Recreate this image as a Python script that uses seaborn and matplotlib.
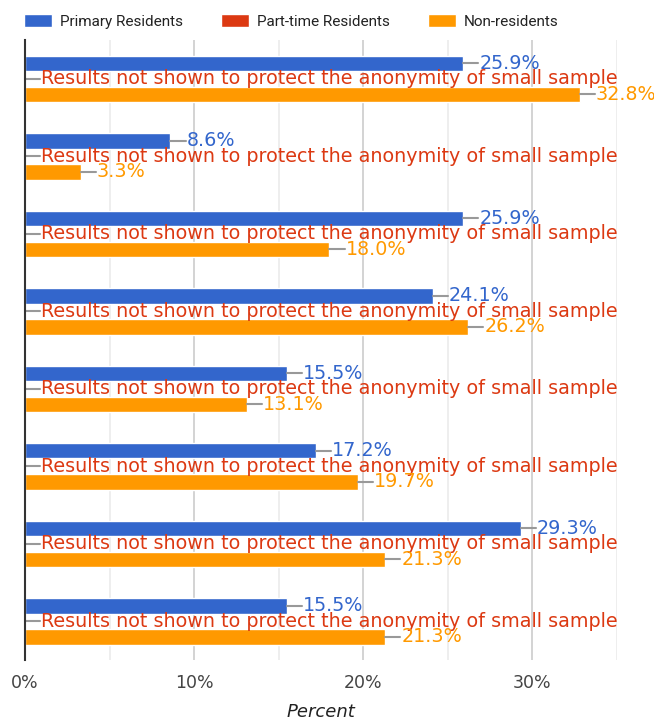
import numpy as np
import pandas as pd
import matplotlib
matplotlib.use('Agg')
import matplotlib.pyplot as plt
import seaborn as sns

groups = ['G1', 'G2', 'G3', 'G4', 'G5', 'G6', 'G7', 'G8']
series = ['Primary Residents', 'Part-time Residents', 'Non-residents']
primary = [25.9, 8.6, 25.9, 24.1, 15.5, 17.2, 29.3, 15.5]
parttime = [np.nan] * 8  # not shown
nonres = [32.8, 3.3, 18.0, 26.2, 13.1, 19.7, 21.3, 21.3]
colors = ['#3366cc', '#dc3912', '#ff9900']
hidden_msg = 'Results not shown to protect the anonymity of small sample'

df = pd.DataFrame({
    'group': groups * 3,
    'series': np.repeat(series, len(groups)),
    'value': primary + parttime + nonres,
})
df['shown'] = df.value.notna()
df['plotval'] = df.value.fillna(0)

sns.set_style('white')
fig = plt.figure(figsize=(6.54, 7.27), dpi=100)
ax = fig.add_axes([25/654, 67/727, (617-25)/654, 620/727])

sns.barplot(data=df, y='group', x='plotval', hue='series', hue_order=series,
            order=groups, palette=colors, orient='h', width=0.6, ax=ax,
            errorbar=None, legend=True, saturation=1)

ax.set_xlim(0, 35)
ax.set_ylim(len(groups) - 0.5, -0.5)
ax.set_yticks([])
ax.set_ylabel('')
ax.set_xticks([0, 10, 20, 30])
ax.set_xticklabels(['0%', '10%', '20%', '30%'], color='#444444', fontsize=12.5)
ax.set_xticks([5, 15, 25, 35], minor=True)
ax.tick_params(axis='x', which='both', length=0, pad=10)
ax.grid(axis='x', which='major', color='#cccccc', lw=1.2)
ax.grid(axis='x', which='minor', color='#ebebeb', lw=1.2)
ax.set_axisbelow(True)
for s in ['top', 'right', 'bottom']:
    ax.spines[s].set_visible(False)
ax.spines['left'].set_color('#333333')
ax.spines['left'].set_linewidth(1.5)
ax.set_xlabel('Percent', fontstyle='italic', fontsize=13, color='#222222', labelpad=8)

# value labels with short leader lines
for ser, cont, col in zip(series, ax.containers, colors):
    sub = df[df.series == ser].reset_index(drop=True)
    for i, p in enumerate(cont.patches):
        yc = p.get_y() + p.get_height() / 2
        x0 = p.get_width()
        ax.plot([x0, x0 + 0.9], [yc, yc], color='#999999', lw=1.5, clip_on=False)
        txt = '{:.1f}%'.format(sub.value[i]) if sub.shown[i] else hidden_msg
        ax.text(x0 + 0.95, yc, txt, color=col, fontsize=13.75, va='center', ha='left',
                clip_on=False)

handles, labels = ax.get_legend_handles_labels()
ax.get_legend().remove()
fig.legend(handles, labels, loc='upper left', bbox_to_anchor=(10/654, 1.0), ncol=3,
           frameon=False, prop={'family': 'Roboto', 'size': 11}, handlelength=1.85,
           handleheight=0.95, columnspacing=2.5, handletextpad=0.5, labelcolor='#222222')

fig.savefig('out.png', dpi=100)
